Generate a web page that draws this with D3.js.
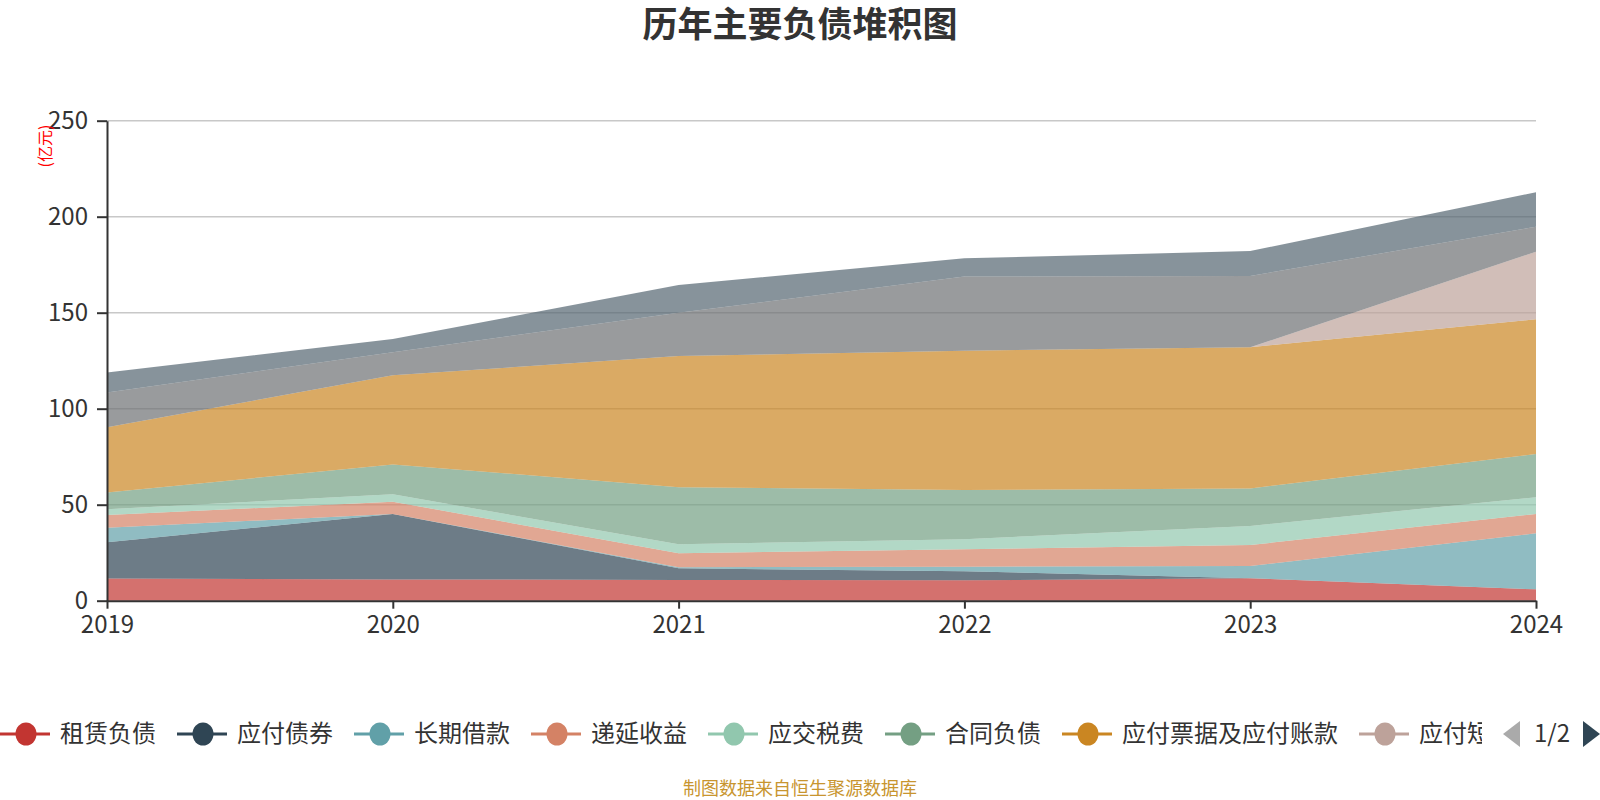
<!DOCTYPE html>
<html lang="zh">
  <head>
    <meta charset="utf-8" />
    <title>历年主要负债堆积图</title>
    <style>
      body {
        margin: 0;
        background: #fff;
      }
      text {
        font-family: "Noto Sans CJK SC", "Noto Sans", sans-serif;
      }
    </style>
  </head>
  <body>
    <div id="main"></div>
    <script src="https://d3js.org/d3.v7.min.js"></script>
    <script>
      // 数据（亿元），从下往上堆积
      var years = ["2019", "2020", "2021", "2022", "2023", "2024"];
      var seriesNames = [
        "租赁负债",
        "应付债券",
        "长期借款",
        "递延收益",
        "应交税费",
        "合同负债",
        "应付票据及应付账款",
        "应付短期债券",
        "短期借款",
        "一年内到期的非流动负债",
      ];
      var zulinFuzhai = [11.5, 11.1, 10.8, 10.6, 11.7, 5.9];
      var yingfuZhaiquan = [18.9, 34.1, 6.1, 4.7, 0, 0];
      var changqiJiekuan = [7.6, 0, 0.5, 2.4, 6.4, 29.2];
      var diyanShouyi = [6.6, 6.4, 7.3, 9.1, 10.9, 10.1];
      var yingjiaoShuifei = [3.0, 3.8, 4.7, 5.2, 9.9, 8.7];
      var hetongFuzhai = [8.7, 15.6, 29.7, 25.7, 19.6, 22.5];
      var yingfuPiaoju = [34.0, 46.4, 68.3, 72.5, 73.5, 70.2];
      var yingfuDuanqi = [0, 0, 0, 0, 0, 35.2];
      var duanqiJiekuan = [18.2, 12.0, 22.6, 38.6, 37.1, 13.0];
      var yinianDaoqi = [10.3, 6.9, 14.4, 9.5, 13.0, 17.9];
      var yTicks = [0, 50, 100, 150, 200, 250];
      var colors = [
        "#c23531",
        "#2f4554",
        "#61a0a8",
        "#d48265",
        "#91c7ae",
        "#749f83",
        "#ca8622",
        "#bda29a",
        "#6e7074",
        "#546570",
      ];

      var allValues = [
        zulinFuzhai,
        yingfuZhaiquan,
        changqiJiekuan,
        diyanShouyi,
        yingjiaoShuifei,
        hetongFuzhai,
        yingfuPiaoju,
        yingfuDuanqi,
        duanqiJiekuan,
        yinianDaoqi,
      ];

      // 转成 d3.stack 要的行
      var rows = years.map(function (yr, i) {
        var row = { year: yr };
        seriesNames.forEach(function (name, k) {
          row[name] = allValues[k][i];
        });
        return row;
      });

      var width = 1600,
        height = 800;
      var plotLeft = 107,
        plotRight = 1536,
        plotTop = 120.7,
        plotBottom = 600.7;

      var svg = d3
        .select("#main")
        .append("svg")
        .attr("width", width)
        .attr("height", height);

      var x = d3.scalePoint().domain(years).range([plotLeft, plotRight]);
      var y = d3.scaleLinear().domain([0, 250]).range([plotBottom, plotTop]);

      // grid lines
      svg
        .append("g")
        .selectAll("line")
        .data(yTicks.slice(1))
        .enter()
        .append("line")
        .attr("x1", plotLeft)
        .attr("x2", plotRight)
        .attr("y1", (d) => y(d))
        .attr("y2", (d) => y(d))
        .attr("stroke", "#c8c8c8")
        .attr("stroke-width", 1.5);

      var stacked = d3.stack().keys(seriesNames)(rows);

      var area = d3
        .area()
        .x((d) => x(d.data.year))
        .y0((d) => y(d[0]))
        .y1((d) => y(d[1]));

      svg
        .append("g")
        .selectAll("path")
        .data(stacked)
        .enter()
        .append("path")
        .attr("d", area)
        .attr("fill", (d, i) => colors[i])
        .attr("fill-opacity", 0.7);

      // axes
      var yAxis = d3
        .axisLeft(y)
        .tickValues(yTicks)
        .tickSize(10)
        .tickSizeOuter(0)
        .tickPadding(9);
      var gy = svg
        .append("g")
        .attr("transform", "translate(" + plotLeft + ",0)")
        .call(yAxis);

      var xAxis = d3.axisBottom(x).tickSize(8).tickSizeOuter(0).tickPadding(7.5);
      var gx = svg
        .append("g")
        .attr("transform", "translate(0," + plotBottom + ")")
        .call(xAxis);

      [gy, gx].forEach(function (g) {
        g.select(".domain").attr("stroke", "#333").attr("stroke-width", 2);
        g.selectAll(".tick line").attr("stroke", "#333").attr("stroke-width", 2);
        g.selectAll(".tick text")
          .attr("fill", "#333")
          .style("font-size", "24px")
          .style("font-family", '"Noto Sans CJK SC", sans-serif');
      });

      // unit label
      svg
        .append("text")
        .attr("transform", "translate(45,146) rotate(-90)")
        .attr("text-anchor", "middle")
        .attr("dy", "0.35em")
        .attr("fill", "#ff0000")
        .style("font-size", "16px")
        .text("(亿元)");

      // title
      svg
        .append("text")
        .attr("x", 800)
        .attr("y", 37)
        .attr("text-anchor", "middle")
        .attr("fill", "#333")
        .style("font-size", "35px")
        .style("font-weight", "bold")
        .text("历年主要负债堆积图");

      // legend (scroll type, page 1 of 2)
      svg
        .append("clipPath")
        .attr("id", "legendClip")
        .append("rect")
        .attr("x", 0)
        .attr("y", 700)
        .attr("width", 1482)
        .attr("height", 70);

      var legend = svg.append("g").attr("clip-path", "url(#legendClip)");
      var ly = 734;
      var lx = 0;
      seriesNames.forEach(function (name, i) {
        var item = legend.append("g");
        item
          .append("line")
          .attr("x1", lx)
          .attr("x2", lx + 50)
          .attr("y1", ly)
          .attr("y2", ly)
          .attr("stroke", colors[i])
          .attr("stroke-width", 3);
        item
          .append("ellipse")
          .attr("cx", lx + 26)
          .attr("cy", ly)
          .attr("rx", 10.5)
          .attr("ry", 11.5)
          .attr("fill", colors[i]);
        var t = item
          .append("text")
          .attr("x", lx + 60)
          .attr("y", ly)
          .attr("dy", "0.35em")
          .attr("fill", "#333")
          .style("font-size", "24px")
          .text(name);
        lx = lx + 60 + t.node().getComputedTextLength() + 21;
      });

      // pager
      svg
        .append("path")
        .attr("d", "M1520,721 L1520,747 L1503,734 Z")
        .attr("fill", "#aaa");
      svg
        .append("text")
        .attr("x", 1552)
        .attr("y", ly)
        .attr("dy", "0.35em")
        .attr("text-anchor", "middle")
        .attr("fill", "#333")
        .style("font-size", "24px")
        .text("1/2");
      svg
        .append("path")
        .attr("d", "M1583,721 L1583,747 L1600,734 Z")
        .attr("fill", "#2f4554");

      // footer
      svg
        .append("text")
        .attr("x", 800)
        .attr("y", 789)
        .attr("dy", "0.35em")
        .attr("text-anchor", "middle")
        .attr("fill", "#c8952f")
        .style("font-size", "18px")
        .text("制图数据来自恒生聚源数据库");
    </script>
  </body>
</html>
